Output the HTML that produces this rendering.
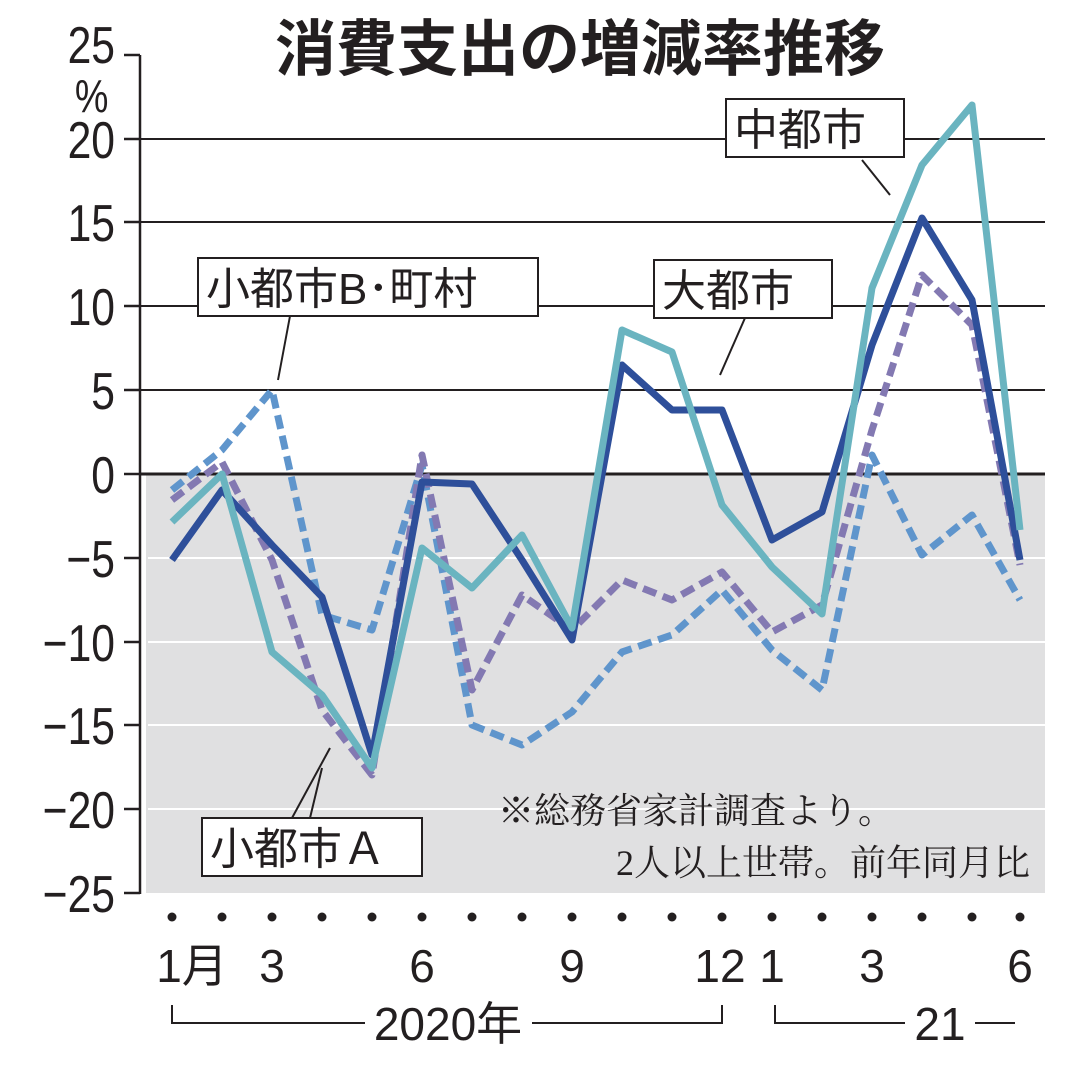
<!DOCTYPE html>
<html><head><meta charset="utf-8"><style>
html,body{margin:0;padding:0;background:#fff;}
svg{display:block;}
text{font-family:"Liberation Sans","Noto Sans CJK JP",sans-serif;fill:#231f20;}
</style></head><body>
<svg width="1071" height="1071" viewBox="0 0 1071 1071" xmlns="http://www.w3.org/2000/svg">
<rect x="146" y="474" width="899" height="419" fill="#e0e0e1"/>
<g stroke="#231f20" stroke-width="2">
<line x1="140" y1="139" x2="1045" y2="139"/>
<line x1="140" y1="222" x2="1045" y2="222"/>
<line x1="140" y1="306" x2="1045" y2="306"/>
<line x1="140" y1="390" x2="1045" y2="390"/>
</g>
<g stroke="#fff" stroke-width="2">
<line x1="148" y1="558" x2="1045" y2="558"/>
<line x1="148" y1="642" x2="1045" y2="642"/>
<line x1="148" y1="725" x2="1045" y2="725"/>
<line x1="148" y1="809" x2="1045" y2="809"/>
</g>
<line x1="140" y1="474" x2="1045" y2="474" stroke="#231f20" stroke-width="3"/>
<g stroke="#231f20" stroke-width="2.5">
<line x1="140" y1="55" x2="140" y2="894"/>
<line x1="124" y1="55" x2="140" y2="55"/>
<line x1="124" y1="139" x2="140" y2="139"/>
<line x1="124" y1="222" x2="140" y2="222"/>
<line x1="124" y1="306" x2="140" y2="306"/>
<line x1="124" y1="390" x2="140" y2="390"/>
<line x1="124" y1="474" x2="140" y2="474"/>
<line x1="124" y1="558" x2="140" y2="558"/>
<line x1="124" y1="642" x2="140" y2="642"/>
<line x1="124" y1="725" x2="140" y2="725"/>
<line x1="124" y1="809" x2="140" y2="809"/>
<line x1="124" y1="893" x2="140" y2="893"/>
</g>
<g font-size="52" text-anchor="end" transform="translate(115,0) scale(0.82,1)">
<text x="0" y="63">25</text>
<text x="-8" y="112" font-size="46">%</text>
<text x="0" y="158">20</text>
<text x="0" y="241">15</text>
<text x="0" y="325">10</text>
<text x="0" y="409">5</text>
<text x="0" y="493">0</text>
<text x="0" y="577">−5</text>
<text x="0" y="661">−10</text>
<text x="0" y="744">−15</text>
<text x="0" y="828">−20</text>
<text x="0" y="912">−25</text>
</g>
<text x="580" y="70" font-size="61" font-weight="bold" text-anchor="middle">消費支出の増減率推移</text>
<g fill="none" stroke-width="7" stroke-linejoin="round">
<polyline stroke="#5f95cc" stroke-dasharray="14,7" points="172,490 222,450 272,390 322,615 372,630 422,465 472,725 522,745 572,712 622,652 672,635 722,590 772,650 822,690 872,455 922,555 972,515 1020,600"/>
<polyline stroke="#8379b2" stroke-dasharray="14,7" points="172,500 222,462 272,560 322,710 372,775 422,455 472,690 522,595 572,630 622,580 672,600 722,572 772,632 822,605 872,430 922,275 972,325 1020,565"/>
<polyline stroke="#2e4f9a" points="172,560 222,490 272,545 322,597 372,755 422,482 472,484 522,560 572,640 622,365 672,410 722,410 772,540 822,512 872,345 922,218 972,300 1020,560"/>
<polyline stroke="#6ab4c0" points="172,522 222,474 272,652 322,695 372,768 422,548 472,588 522,535 572,628 622,330 672,352 722,505 772,567 822,614 872,288 922,165 972,105 1020,530"/>
</g>
<g stroke="#231f20" stroke-width="2" fill="none">
<line x1="290" y1="316" x2="278" y2="380"/>
<line x1="745" y1="318" x2="720" y2="375"/>
<line x1="862" y1="160" x2="890" y2="195"/>
<line x1="330" y1="748" x2="292" y2="818"/>
<line x1="322" y1="768" x2="310" y2="818"/>
</g>
<g fill="#fff" stroke="#231f20" stroke-width="2">
<rect x="198" y="258" width="340" height="58"/>
<rect x="654" y="260" width="178" height="58"/>
<rect x="726" y="99" width="178" height="58"/>
<rect x="202" y="818" width="220" height="58"/>
</g>
<g font-size="44">
<text x="206" y="304">小都市B･町村</text>
<text x="662" y="306">大都市</text>
<text x="734" y="145">中都市</text>
<text x="210" y="864">小都市Ａ</text>
</g>
<g font-size="36">
<text x="498" y="823" style="font-family:'Liberation Serif','Noto Serif CJK SC',serif">※総務省家計調査より。</text>
<text x="1030" y="875" text-anchor="end" style="font-family:'Liberation Serif','Noto Serif CJK SC',serif">2人以上世帯。前年同月比</text>
</g>
<g fill="#231f20">
<circle cx="172" cy="917" r="4.5"/><circle cx="222" cy="917" r="4.5"/><circle cx="272" cy="917" r="4.5"/><circle cx="322" cy="917" r="4.5"/><circle cx="372" cy="917" r="4.5"/><circle cx="422" cy="917" r="4.5"/><circle cx="472" cy="917" r="4.5"/><circle cx="522" cy="917" r="4.5"/><circle cx="572" cy="917" r="4.5"/><circle cx="622" cy="917" r="4.5"/><circle cx="672" cy="917" r="4.5"/><circle cx="722" cy="917" r="4.5"/><circle cx="772" cy="917" r="4.5"/><circle cx="822" cy="917" r="4.5"/><circle cx="872" cy="917" r="4.5"/><circle cx="922" cy="917" r="4.5"/><circle cx="972" cy="917" r="4.5"/><circle cx="1020" cy="917" r="4.5"/>
</g>
<g font-size="46" text-anchor="middle">
<text x="192" y="982">1月</text>
<text x="272" y="982">3</text>
<text x="422" y="982">6</text>
<text x="572" y="982">9</text>
<text x="720" y="982">12</text>
<text x="772" y="982">1</text>
<text x="872" y="982">3</text>
<text x="1020" y="982">6</text>
<text x="448" y="1040">2020年</text>
<text x="940" y="1040">21</text>
</g>
<g stroke="#231f20" stroke-width="2" fill="none">
<polyline points="172,1005 172,1023 365,1023"/>
<polyline points="532,1023 722,1023 722,1005"/>
<polyline points="775,1005 775,1023 905,1023"/>
<line x1="975" y1="1023" x2="1015" y2="1023"/>
</g>
</svg>
</body></html>
